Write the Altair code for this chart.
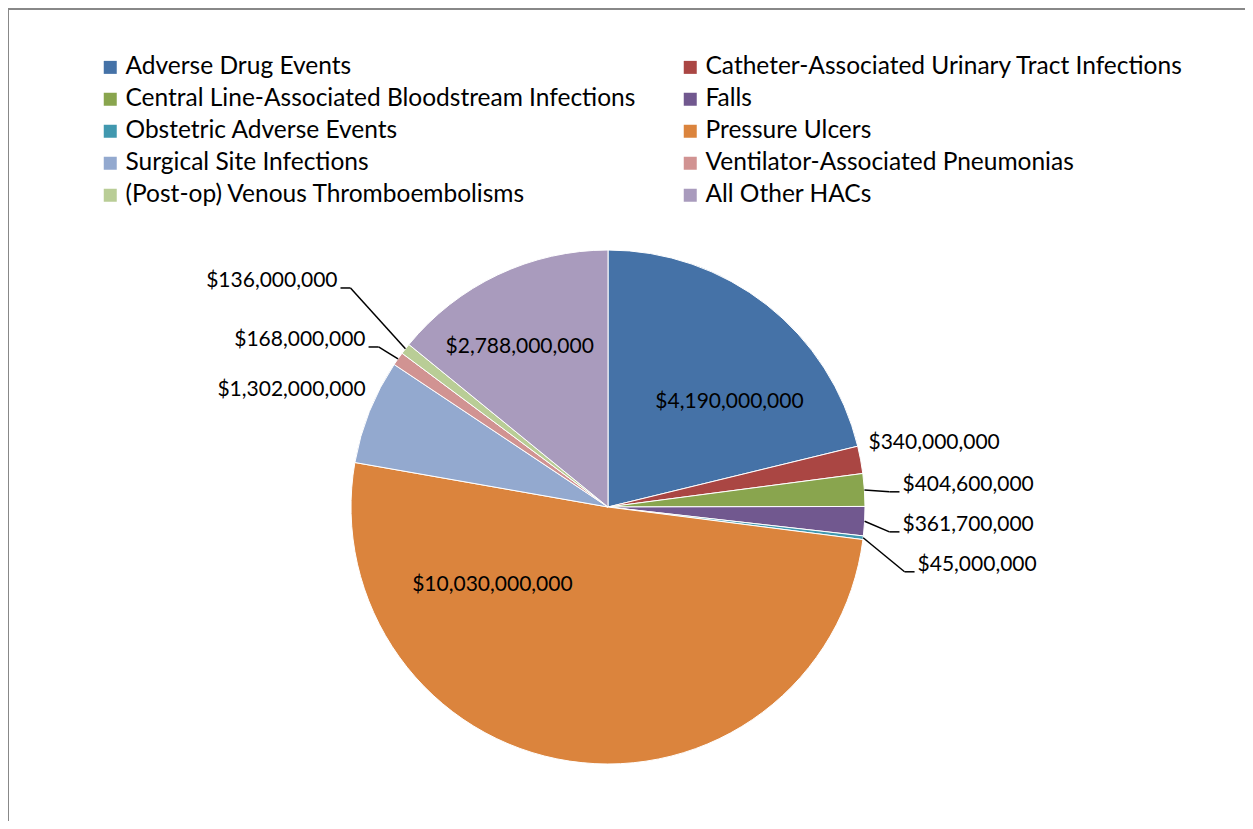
import altair as alt
import pandas as pd

# ---- data ----
categories = [
    "Adverse Drug Events",
    "Catheter-Associated Urinary Tract Infections",
    "Central Line-Associated Bloodstream Infections",
    "Falls",
    "Obstetric Adverse Events",
    "Pressure Ulcers",
    "Surgical Site Infections",
    "Ventilator-Associated Pneumonias",
    "(Post-op) Venous Thromboembolisms",
    "All Other HACs",
]
costs = [4190000000, 340000000, 404600000, 361700000, 45000000,
         10030000000, 1302000000, 168000000, 136000000, 2788000000]
colors = ["#4572A7", "#AA4643", "#89A54E", "#71588F", "#4198AF",
          "#DB843D", "#93A9CF", "#D19392", "#B9CD96", "#A99BBD"]

# ---- label layout (annotation placement only) ----
label_side = ["inside", "right", "right", "right", "right",
              "inside", "left", "left", "left", "inside"]
label_radius = [160.6, 268.2, 295.3, 295.0, 314.9, 139.4, 269.2, 294.4, 352.5, 182.8]
label_shift_deg = [11.0, -3.2, -0.5, 0.3, 3.7, 47.4, 4.0, -0.65, 1.9, -3.5]
leader = [0, 0, 1, 1, 1, 0, 0, 1, 1, 0]

FONT = "Lato"
FS = 21
LEG_FS = 24.5
CX, CY, R = 600, 499, 257
LINE_DY = 7

df = pd.DataFrame({
    "idx": list(range(len(categories))),
    "category": categories,
    "cost": costs,
    "side": label_side,
    "lr": label_radius,
    "shift": label_shift_deg,
    "leader": leader,
})

pie = alt.Chart(df).mark_arc(outerRadius=R, stroke="white", strokeWidth=1).encode(
    theta=alt.Theta("cost:Q", stack=True),
    order=alt.Order("idx:Q"),
    color=alt.Color(
        "category:N",
        scale=alt.Scale(domain=categories, range=colors),
        legend=alt.Legend(
            title=None, orient="none", legendX=90, legendY=47, columns=2,
            direction="horizontal",
            symbolType="square", symbolSize=169, symbolStrokeWidth=0,
            labelFont=FONT, labelFontSize=LEG_FS, labelColor="black",
            labelOffset=3, labelLimit=900, rowPadding=7, columnPadding=42,
            padding=0,
        ),
    ),
    x=alt.value(CX),
    y=alt.value(CY),
)

base = alt.Chart(df).transform_window(
    cum="sum(cost)", sort=[alt.SortField("idx")], frame=[None, 0]
).transform_joinaggregate(
    total="sum(cost)"
).transform_calculate(
    mid="(datum.cum - datum.cost/2) / datum.total * 2 * PI",
    ang="datum.mid + datum.shift * PI / 180",
    lx=f"{CX} + datum.lr * sin(datum.ang)",
    ly=f"{CY} - datum.lr * cos(datum.ang)",
    ex=f"{CX} + {R} * sin(datum.mid)",
    ey=f"{CY} - {R} * cos(datum.mid)",
    sgn="datum.side == 'left' ? -1 : 1",
    elx="datum.lx - datum.sgn * 13",
    enx="datum.lx - datum.sgn * 3",
    liney=f"datum.ly + {LINE_DY}",
)

def texts(side, align):
    return base.transform_filter(f"datum.side == '{side}'").mark_text(
        font=FONT, fontSize=FS, color="black", align=align, baseline="middle"
    ).encode(
        x=alt.X("lx:Q", scale=None, axis=None),
        y=alt.Y("ly:Q", scale=None, axis=None),
        text=alt.Text("cost:Q", format="$,.0f"),
    )

lead = base.transform_filter("datum.leader == 1")
diag = lead.mark_rule(color="black", strokeWidth=1.5).encode(
    x=alt.X("ex:Q", scale=None, axis=None),
    y=alt.Y("ey:Q", scale=None, axis=None),
    x2="elx:Q",
    y2="liney:Q",
)
horiz = lead.mark_rule(color="black", strokeWidth=1.5).encode(
    x=alt.X("elx:Q", scale=None, axis=None),
    x2="enx:Q",
    y=alt.Y("liney:Q", scale=None, axis=None),
)

frame = alt.Chart(pd.DataFrame({"a": [0]})).mark_rect(
    fill=None, stroke="#888888", strokeWidth=2
).encode(
    x=alt.value(0), x2=alt.value(1300), y=alt.value(1), y2=alt.value(900)
)

chart = alt.layer(
    frame, pie, diag, horiz,
    texts("inside", "center"), texts("right", "left"), texts("left", "right"),
).properties(
    width=1237, height=813, padding=0,
    autosize=alt.AutoSizeParams(type="none"),
).configure_view(stroke=None)

chart.save("out.html", embed_options={"renderer": "svg", "actions": False})
